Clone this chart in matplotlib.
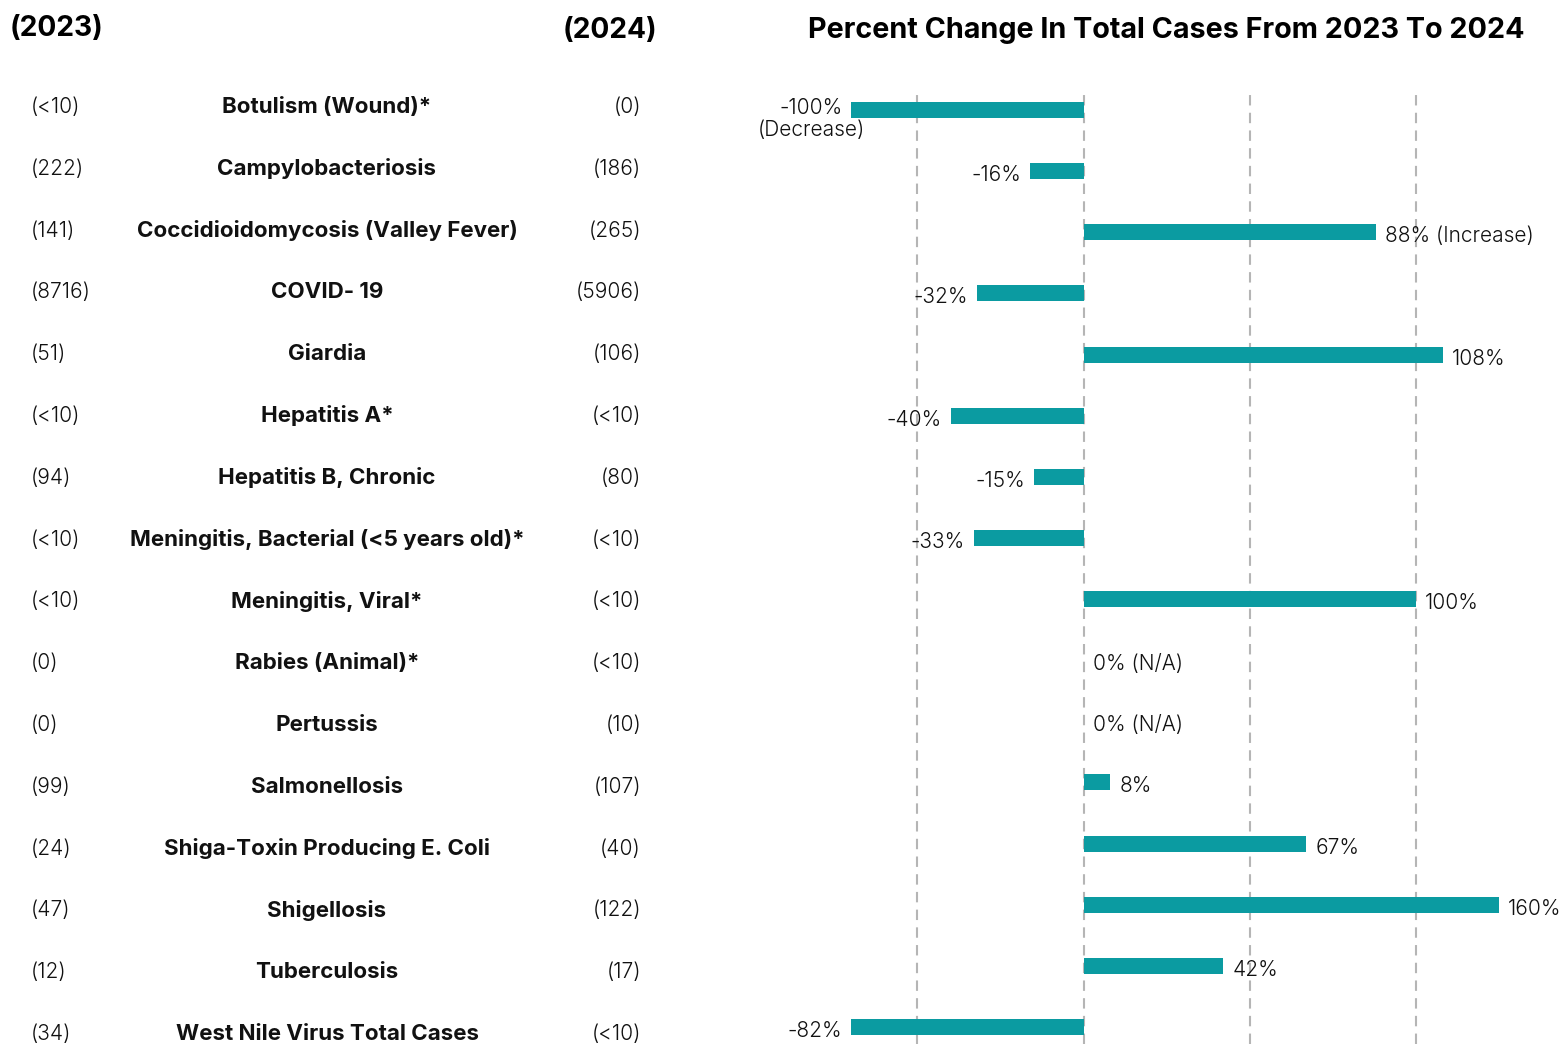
import matplotlib.pyplot as plt
import matplotlib.transforms as mtransforms
import numpy as np

plt.rcParams['font.family'] = ['Inter', 'DejaVu Sans']

# table data
diseases = ["Botulism (Wound)*", "Campylobacteriosis", "Coccidioidomycosis (Valley Fever)",
            "COVID- 19", "Giardia", "Hepatitis A*", "Hepatitis B, Chronic",
            "Meningitis, Bacterial (<5 years old)*", "Meningitis, Viral*", "Rabies (Animal)*",
            "Pertussis", "Salmonellosis", "Shiga-Toxin Producing E. Coli", "Shigellosis",
            "Tuberculosis", "West Nile Virus Total Cases"]
cases_2023 = ["<10", "222", "141", "8716", "51", "<10", "94", "<10", "<10", "0", "0",
              "99", "24", "47", "12", "34"]
cases_2024 = ["0", "186", "265", "5906", "106", "<10", "80", "<10", "<10", "<10", "10",
              "107", "40", "122", "17", "<10"]
pct_change = [-100, -16, 88, -32, 108, -40, -15, -33, 100, 0, 0, 8, 67, 160, 42, -82]
label_suffix = ["\n(Decrease)", "", " (Increase)", "", "", "", "", "", "", " (N/A)", " (N/A)",
                "", "", "", "", ""]

xlim = (-70, 125)
grid_x = [-50, 0, 50, 100]

W, H = 1559, 1044
fig = plt.figure(figsize=(W / 100, H / 100), dpi=100)
ax = fig.add_axes([851 / W, 0, (1499 - 851) / W, (1044 - 90) / H])

n = len(diseases)
rows = np.arange(n)
row_px = (1027 - 110) / (n - 1)
ax.set_ylim(n - 1 + 17 / row_px, -20 / row_px)
ax.set_xlim(*xlim)

for gx in grid_x:
    ax.axvline(gx, color='#b5b5b5', linewidth=1.5, linestyle=(0, (5, 3.5)), zorder=0)

ax.barh(rows, pct_change, height=16 / row_px, color='#0b9ba1', linewidth=0, zorder=2)

val_style = dict(fontsize=15, fontweight=300, color='#111111')
for i, (v, suf) in enumerate(zip(pct_change, label_suffix)):
    xe = min(max(v, xlim[0]), xlim[1])
    txt = f"{v}%{suf}"
    if "\n" in suf:
        ax.annotate(txt, (xe, i), xytext=(-40, 12), textcoords='offset pixels',
                    ha='center', va='top', multialignment='center', annotation_clip=False,
                    linespacing=1.1, **val_style)
    elif v < 0:
        ax.annotate(txt, (xe, i), xytext=(-9, -4), textcoords='offset pixels',
                    ha='right', va='center', annotation_clip=False, **val_style)
    else:
        ax.annotate(txt, (xe, i), xytext=(9, -4), textcoords='offset pixels',
                    ha='left', va='center', annotation_clip=False, **val_style)

ax.axis('off')

# left-hand table (its rows run on a slightly wider pitch than the bars)
trans = mtransforms.blended_transform_factory(fig.transFigure, ax.transData)
text_pitch = 61.8 / row_px
for i in rows:
    y = i * text_pitch - 3 / row_px
    ax.text(31 / W, y, f"({cases_2023[i]})", transform=trans, ha='left', va='center',
            **val_style)
    ax.text(327 / W, y, diseases[i], transform=trans, ha='center', va='center',
            fontsize=16.1, fontweight='bold', color='#111111')
    ax.text(641 / W, y, f"({cases_2024[i]})", transform=trans, ha='right', va='center',
            **val_style)

fig.text(10 / W, 1 - 28 / H, "(2023)", ha='left', va='center', fontsize=20.3, fontweight='bold')
fig.text(657 / W, 1 - 30 / H, "(2024)", ha='right', va='center', fontsize=20.3, fontweight='bold')
fig.text(1166 / W, 1 - 30 / H, "Percent Change In Total Cases From 2023 To 2024",
         ha='center', va='center', fontsize=20.7, fontweight='bold')

fig.savefig("out.png", dpi=100)
plt.close(fig)
